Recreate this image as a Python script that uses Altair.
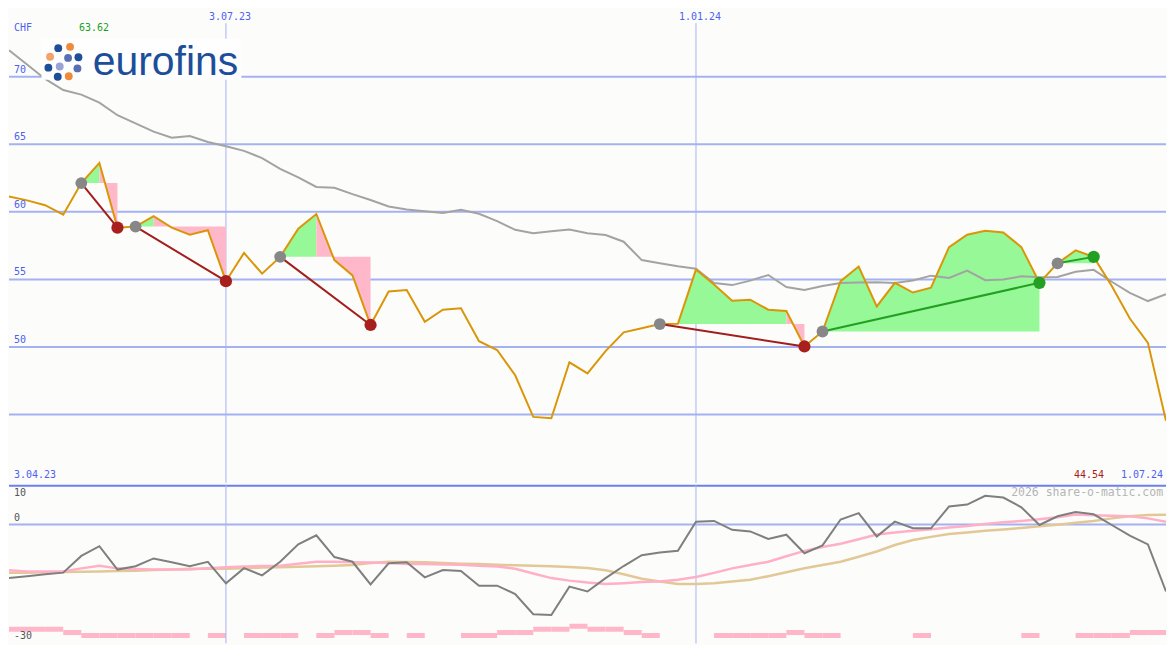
import altair as alt
import pandas as pd

# ---------------- data ----------------
first_week = "2023-04-10"
dates = pd.date_range(first_week, periods=65, freq="7D")

price = [61.14, 60.85, 60.49, 59.79, 62.13, 63.62, 58.83, 58.91, 59.68, 58.83,
         58.31, 58.64, 54.87, 56.96, 55.43, 56.67, 58.76, 59.84, 56.43, 55.30,
         51.63, 54.11, 54.22, 51.87, 52.76, 52.87, 50.43, 49.78, 47.91, 44.83,
         44.73, 48.87, 48.05, 49.70, 51.09, 51.39, 51.70, 51.72, 55.73, 54.62,
         53.43, 53.50, 52.76, 52.66, 50.04, 51.15, 54.87, 55.95, 53.00, 54.75,
         54.03, 54.39, 57.39, 58.31, 58.60, 58.47, 57.39, 54.75, 56.19, 57.15,
         56.67, 54.51, 52.11, 50.31, 44.54]

ma = [71.95, 70.90, 69.83, 69.01, 68.67, 68.08, 67.15, 66.54, 65.93, 65.49,
      65.61, 65.17, 64.85, 64.51, 63.98, 63.18, 62.55, 61.84, 61.78, 61.31,
      60.88, 60.40, 60.17, 60.04, 59.91, 60.15, 59.86, 59.32, 58.67, 58.42,
      58.57, 58.70, 58.42, 58.28, 57.79, 56.43, 56.19, 55.97, 55.79, 54.73,
      54.58, 54.91, 55.33, 54.44, 54.22, 54.51, 54.73, 54.78, 54.80, 54.73,
      54.92, 55.28, 55.11, 55.66, 54.94, 54.99, 55.23, 55.16, 55.18, 55.57,
      55.71, 54.83, 54.01, 53.40, 53.90]

osc = [-13.75, -13.3, -12.8, -12.4, -8.1, -5.6, -11.6, -10.75, -8.75, -9.75,
       -10.75, -9.6, -15.15, -11.25, -13.1, -9.6, -5.1, -2.8, -8.4, -9.6,
       -15.4, -10.0, -9.75, -13.6, -11.75, -12.0, -15.75, -15.75, -17.9, -23.1,
       -23.3, -16.0, -17.25, -13.8, -10.7, -7.9, -7.25, -6.8, 0.7, 0.9,
       -1.4, -1.8, -3.75, -2.65, -7.4, -5.4, 1.25, 2.9, -3.1, 0.7,
       -1.0, -1.0, 4.6, 5.1, 7.35, 6.9, 4.4, -0.15, 2.1, 3.2,
       2.6, -0.15, -2.9, -5.15, -17.25]

sig = [-11.8, -12.1, -12.1, -12.1, -11.3, -10.6, -11.3, -11.45, -11.6, -11.6,
       -11.6, -11.3, -11.0, -10.8, -10.7, -10.6, -10.1, -9.6, -9.6, -9.75,
       -9.8, -9.95, -10.15, -10.2, -10.3, -10.4, -10.6, -10.8, -11.4, -12.6,
       -13.8, -14.45, -14.95, -15.3, -15.1, -14.8, -14.7, -14.2, -13.5, -12.45,
       -11.3, -10.45, -9.6, -8.2, -6.8, -5.8, -4.95, -3.8, -2.6, -2.1,
       -1.65, -1.25, -0.8, -0.4, 0.1, 0.55, 0.9, 1.35, 1.85, 2.55,
       2.35, 2.2, 2.1, 1.55, 0.7]

slow = [-12.4, -12.4, -12.3, -12.25, -12.2, -12.1, -12.0, -11.9, -11.7, -11.6,
        -11.4, -11.4, -11.4, -11.3, -11.1, -11.0, -10.9, -10.75, -10.6, -10.45,
        -9.95, -9.6, -9.65, -9.75, -9.9, -10.1, -10.2, -10.4, -10.5, -10.65,
        -10.75, -10.95, -11.2, -11.8, -12.8, -13.95, -14.7, -15.3, -15.3, -15.1,
        -14.7, -14.2, -13.3, -12.3, -11.25, -10.45, -9.6, -8.3, -6.95, -5.3,
        -4.0, -3.2, -2.45, -2.1, -1.65, -1.3, -0.9, -0.45, -0.1, 0.4,
        0.9, 1.55, 2.1, 2.4, 2.5]

vol = [3, 3, 3, 2, 1, 1, 1, 1, 1, 1,
       0, 1, 0, 1, 1, 1, 0, 1, 2, 2,
       1, 0, 1, 0, 0, 1, 1, 2, 2, 3,
       3, 4, 3, 3, 2, 1, 0, 0, 0, 1,
       1, 1, 1, 2, 1, 1, 0, 0, 0, 0,
       1, 0, 0, 0, 0, 0, 1, 0, 0, 1,
       1, 1, 2, 2, 2]

trade_entry = [4, 7, 15, 36, 45, 58]
trade_split = [5, 8, 17, 43, 57, 60]
trade_exit = [6, 12, 20, 44, 57, 60]
trade_result = ["loss", "loss", "loss", "loss", "win", "win"]

grid_main = [45, 50, 55, 60, 65, 70]
grid_main_labels = ["50", "55", "60", "65", "70"]
vline_dates = ["2023-07-03", "2024-01-01"]
vline_labels = ["3.07.23", "1.01.24"]

# logo dots (decoration)
logo_dots = [(50, 40.7, "#1f4e99"), (62, 39.3, "#ef8a3a"), (41.7, 49.5, "#f4a366"),
             (60, 50.7, "#5a6eb2"), (70.5, 50, "#1f4e99"), (51.5, 59.5, "#9aa3d8"),
             (40, 60.7, "#1f4e99"), (69.5, 61.5, "#5a6eb2"), (49.5, 70, "#1f4e99"),
             (60.7, 69.5, "#ef8a3a")]

# ---------------- layout ----------------
W_REF, H_REF, SPLIT_REF = 1175, 650, 487
W, H = 1159, 634
SX, SY = W / W_REF, H / H_REF
H1 = round(SPLIT_REF * SY)
H2 = H - H1


def X(px):
    return px * SX


def Y(py):
    return py * SY


def YL(py):
    return (py - SPLIT_REF) * SY


MONO = "DejaVu Sans Mono"
BLUE_TXT = "#4f5ff0"
GRID = "#a4b2f2"
VLINE = "#a8b2f2"
BG = "#fcfdfb"
LOSS_LINE = "#a31d1d"
WIN_LINE = "#22a022"

df = pd.DataFrame({
    "date": dates.strftime("%Y-%m-%d"),
    "end": (dates + pd.Timedelta(days=7)).strftime("%Y-%m-%d"),
    "price": price, "ma": ma, "osc": osc, "sig": sig, "slow": slow, "vol": vol,
})

xs = alt.Scale(type="utc", domain=[alt.DateTime(year=2023, month=4, date=10, utc=True),
                                   alt.DateTime(year=2024, month=7, date=1, utc=True)])
xenc = alt.X("date:T", scale=xs, axis=None)
ys_main = alt.Scale(domain=[39.96, 75.04], nice=False, zero=False)
ys_low = alt.Scale(domain=[-30.6, 10.2], nice=False, zero=False)

# fill areas and trade lines
fill_rows, tline_rows, entry_rows, exit_rows = [], [], [], []
for t, (e, s, x, r) in enumerate(zip(trade_entry, trade_split, trade_exit, trade_result)):
    base = price[e]
    for i in range(e, s + 1):
        fill_rows.append({"date": df.date[i], "price": price[i], "base": base,
                          "seg": f"g{t}", "kind": "gain"})
    if x > s:
        for i in range(s, x + 1):
            fill_rows.append({"date": df.date[i], "price": price[i], "base": base,
                              "seg": f"l{t}", "kind": "loss"})
    tline_rows.append({"date": df.date[e], "price": price[e], "trade": t, "result": r})
    tline_rows.append({"date": df.date[x], "price": price[x], "trade": t, "result": r})
    entry_rows.append({"date": df.date[e], "price": price[e]})
    exit_rows.append({"date": df.date[x], "price": price[x], "result": r})

fill_df = pd.DataFrame(fill_rows)
tline_df = pd.DataFrame(tline_rows)
entry_df = pd.DataFrame(entry_rows)
exit_df = pd.DataFrame(exit_rows)

one = pd.DataFrame({"k": [0]})


def txt(s, x, y, color, size=10, align="left", baseline="middle", font=MONO, weight="normal"):
    return alt.Chart(one).mark_text(text=s, fontSize=size, font=font, color=color,
                                    align=align, baseline=baseline, fontWeight=weight
                                    ).encode(x=alt.value(x), y=alt.value(y))


ymain = lambda f: alt.Y(f, scale=ys_main, axis=None)

# ---------------- main panel ----------------
grid = alt.Chart(pd.DataFrame({"v": grid_main})).mark_rule(color=GRID, strokeWidth=2).encode(
    y=ymain("v:Q"))
grid_lab = alt.Chart(pd.DataFrame({"v": [int(g) for g in grid_main_labels],
                                   "t": grid_main_labels})).mark_text(
    font=MONO, fontSize=10, color=BLUE_TXT, align="left", dy=-7).encode(
    x=alt.value(X(5)), y=ymain("v:Q"), text="t:N")

vl_df = pd.DataFrame({"date": vline_dates, "t": vline_labels})
vrule_main = alt.Chart(vl_df).mark_rule(color=VLINE, strokeWidth=1).encode(
    x=xenc, y=alt.value(Y(15)), y2=alt.value(H1))
vlab = alt.Chart(vl_df).mark_text(font=MONO, fontSize=10, color=BLUE_TXT, dx=4).encode(
    x=xenc, y=alt.value(Y(9)), text="t:N")

gain_fill = alt.Chart(fill_df).transform_filter("datum.kind == 'gain'").mark_area(
    opacity=1, color="#96f896", clip=True).encode(
    x=xenc, y=ymain("price:Q"), y2="base:Q", detail="seg:N")
loss_fill = alt.Chart(fill_df).transform_filter("datum.kind == 'loss'").mark_area(
    opacity=1, color="#ffb8c9", clip=True).encode(
    x=xenc, y=ymain("price:Q"), y2="base:Q", detail="seg:N")

ma_line = alt.Chart(df).mark_line(color="#a3a3a3", strokeWidth=2, clip=True).encode(
    x=xenc, y=ymain("ma:Q"))
price_line = alt.Chart(df).mark_line(color="#da9608", strokeWidth=2, clip=True).encode(
    x=xenc, y=ymain("price:Q"))
loss_lines = alt.Chart(tline_df).transform_filter("datum.result == 'loss'").mark_line(
    strokeWidth=2, color=LOSS_LINE).encode(x=xenc, y=ymain("price:Q"), detail="trade:N")
win_lines = alt.Chart(tline_df).transform_filter("datum.result == 'win'").mark_line(
    strokeWidth=2, color=WIN_LINE).encode(x=xenc, y=ymain("price:Q"), detail="trade:N")
entry_pts = alt.Chart(entry_df).mark_circle(size=140, opacity=1, color="#878787").encode(
    x=xenc, y=ymain("price:Q"))
loss_pts = alt.Chart(exit_df).transform_filter("datum.result == 'loss'").mark_circle(
    size=150, opacity=1, color="#a8201e").encode(x=xenc, y=ymain("price:Q"))
win_pts = alt.Chart(exit_df).transform_filter("datum.result == 'win'").mark_circle(
    size=150, opacity=1, color="#23a023").encode(x=xenc, y=ymain("price:Q"))

logo_bg = alt.Chart(one).mark_rect(color="#fdfefd").encode(
    x=alt.value(X(33)), x2=alt.value(X(236)), y=alt.value(Y(31)), y2=alt.value(Y(73)))
logo_layers = [logo_bg]
for (dx, dy, c) in logo_dots:
    logo_layers.append(alt.Chart(one).mark_circle(size=62, opacity=1, color=c).encode(
        x=alt.value(X(dx)), y=alt.value(Y(dy))))
logo_layers.append(txt("eurofins", X(85), Y(68), "#1c4e9a", size=41,
                       baseline="alphabetic", font="Liberation Sans"))

main = alt.layer(
    grid, vrule_main, gain_fill, loss_fill, ma_line, price_line, loss_lines, win_lines,
    entry_pts, loss_pts, win_pts,
    *logo_layers, grid_lab, vlab,
    txt("CHF", X(5), Y(20), BLUE_TXT),
    txt("63.62", X(71), Y(20), "#1e9e1e"),
    txt("3.04.23", X(5), Y(479), BLUE_TXT),
    txt("44.54", X(1112), Y(479), "#a51c1c", align="right"),
    txt("1.07.24", X(1172), Y(479), BLUE_TXT, align="right"),
).properties(width=W, height=H1)

# ---------------- lower panel ----------------
vol_bars = alt.Chart(df).transform_filter("datum.vol > 0").mark_bar(
    color="#ffb6c8", clip=True).encode(
    x=xenc, x2="end:T",
    y=alt.Y("vol:Q", scale=alt.Scale(domain=[0, 49], nice=False), axis=None))

zero_rule = alt.Chart(pd.DataFrame({"v": [0]})).mark_rule(color=GRID, strokeWidth=2).encode(
    y=alt.Y("v:Q", scale=ys_low, axis=None))
sep_rule = alt.Chart(one).mark_rule(color="#6c7fea", strokeWidth=2).encode(
    y=alt.value(1))
vrule_low = alt.Chart(vl_df).mark_rule(color=VLINE, strokeWidth=1).encode(x=xenc)
slow_line = alt.Chart(df).mark_line(color="#e2c896", strokeWidth=2.5, clip=True).encode(
    x=xenc, y=alt.Y("slow:Q", scale=ys_low, axis=None))
sig_line = alt.Chart(df).mark_line(color="#ffb0c6", strokeWidth=2.5, clip=True).encode(
    x=xenc, y=alt.Y("sig:Q", scale=ys_low, axis=None))
osc_line = alt.Chart(df).mark_line(color="#7f7f7f", strokeWidth=2, clip=True).encode(
    x=xenc, y=alt.Y("osc:Q", scale=ys_low, axis=None))

rest = alt.layer(
    zero_rule, sep_rule, vrule_low, slow_line, sig_line, osc_line,
    txt("10", X(5), YL(496), "#555555"),
    txt("0", X(5), YL(521), "#555555"),
    txt("-30", X(5), YL(642), "#555555"),
    txt("2026 share-o-matic.com", X(1172), YL(496), "#b5b5b5", size=11.5, align="right"),
)
lower = alt.layer(vol_bars, rest).resolve_scale(y="independent").properties(width=W, height=H2)

chart = alt.vconcat(main, lower, spacing=0).properties(
    padding=0, background=BG
).configure_view(stroke=None)

chart.save("out.html", embed_options={"renderer": "svg", "actions": False})
